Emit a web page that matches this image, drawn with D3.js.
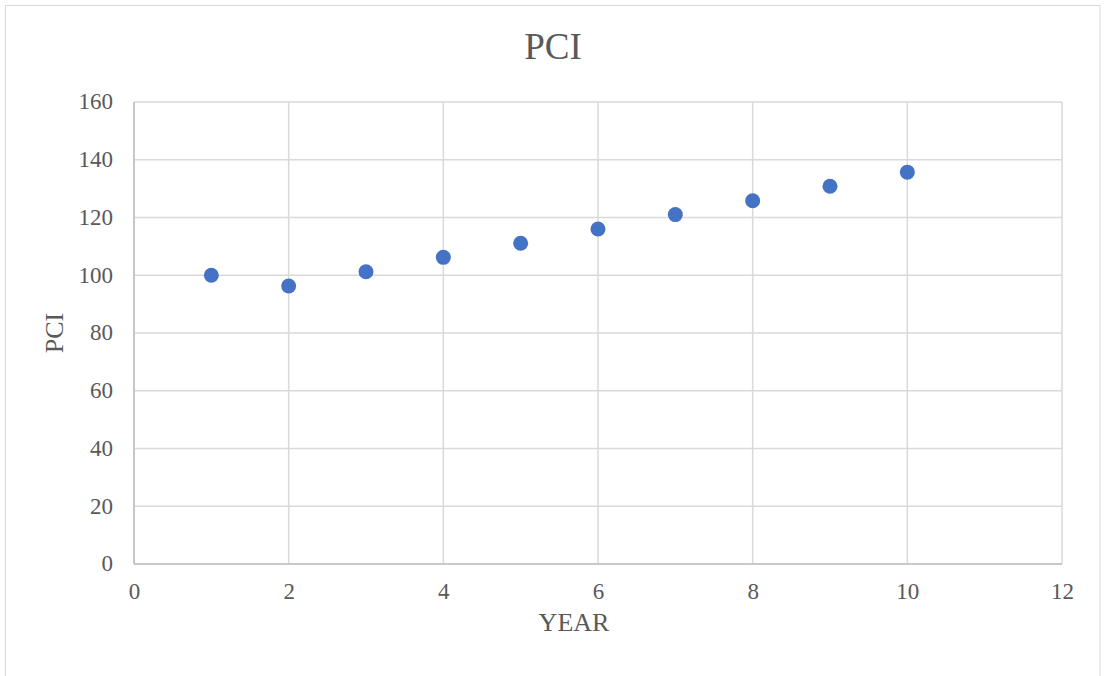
<!DOCTYPE html>
<html>
<head>
<meta charset="utf-8">
<script src="https://cdn.jsdelivr.net/npm/d3@7"></script>
<style>
  html, body { margin: 0; padding: 0; background: #ffffff; }
  svg { display: block; }
</style>
</head>
<body>
<svg id="chart" width="1104" height="676"></svg>
<script>
// PCI by year
const years = [1, 2, 3, 4, 5, 6, 7, 8, 9, 10];
const pci = [100, 96.3, 101.2, 106.2, 111.1, 116, 121, 125.8, 130.8, 135.7];
const xTicks = [0, 2, 4, 6, 8, 10, 12];
const yTicks = [0, 20, 40, 60, 80, 100, 120, 140, 160];

const W = 1104, H = 676;
const margin = { left: 134, right: 1104 - 1062, top: 102, bottom: 676 - 564 };
const font = "'Liberation Serif', 'Times New Roman', serif";
const textColor = "#595959";

const svg = d3.select("#chart");

// chart frame
svg.append("rect")
  .attr("x", 5.5).attr("y", 5.5)
  .attr("width", 1094.5).attr("height", 680)
  .attr("fill", "#ffffff")
  .attr("stroke", "#d9d9d9").attr("stroke-width", 1);

const x = d3.scaleLinear().domain([0, 12]).range([margin.left, W - margin.right]);
const y = d3.scaleLinear().domain([0, 160]).range([H - margin.bottom, margin.top]);

// gridlines
const grid = svg.append("g");
grid.selectAll("line.h").data(yTicks).join("line")
  .attr("class", "h")
  .attr("x1", x(0)).attr("x2", x(12))
  .attr("y1", d => y(d)).attr("y2", d => y(d))
  .attr("stroke", "#d9d9d9").attr("stroke-width", 1.5);
grid.selectAll("line.v").data(xTicks).join("line")
  .attr("class", "v")
  .attr("y1", y(0)).attr("y2", y(160))
  .attr("x1", d => x(d)).attr("x2", d => x(d))
  .attr("stroke", "#d9d9d9").attr("stroke-width", 1.5);

// axis lines
svg.append("line")
  .attr("x1", x(0)).attr("x2", x(12)).attr("y1", y(0)).attr("y2", y(0))
  .attr("stroke", "#bfbfbf").attr("stroke-width", 1.5);
svg.append("line")
  .attr("x1", x(0)).attr("x2", x(0)).attr("y1", y(0)).attr("y2", y(160))
  .attr("stroke", "#bfbfbf").attr("stroke-width", 1.5);

// axes (labels only)
const xAxis = d3.axisBottom(x).tickValues(xTicks).tickSize(0).tickPadding(0).tickFormat(d3.format("d"));
const yAxis = d3.axisLeft(y).tickValues(yTicks).tickSize(0).tickPadding(0).tickFormat(d3.format("d"));

const gx = svg.append("g").attr("transform", `translate(0,${y(0) + 35})`).call(xAxis);
const gy = svg.append("g").attr("transform", `translate(${x(0) - 21},0)`).call(yAxis);
[gx, gy].forEach(g => {
  g.select(".domain").remove();
  g.selectAll("text")
    .attr("fill", textColor)
    .style("font-family", font)
    .style("font-size", "23px");
});
gy.selectAll("text").attr("dy", "0.3em");
gx.selectAll("text").attr("dy", "0");

// points
svg.append("g").selectAll("circle").data(years).join("circle")
  .attr("cx", (d, i) => x(d))
  .attr("cy", (d, i) => y(pci[i]))
  .attr("r", 7.5)
  .attr("fill", "#4472c4");

// titles
svg.append("text")
  .attr("x", 553).attr("y", 59)
  .attr("text-anchor", "middle")
  .attr("fill", textColor)
  .style("font-family", font).style("font-size", "37px")
  .text("PCI");

svg.append("text")
  .attr("x", 574).attr("y", 631)
  .attr("text-anchor", "middle")
  .attr("fill", textColor)
  .style("font-family", font).style("font-size", "26px")
  .text("YEAR");

svg.append("text")
  .attr("transform", `translate(63,${(y(0) + y(160)) / 2}) rotate(-90)`)
  .attr("text-anchor", "middle")
  .attr("fill", textColor)
  .style("font-family", font).style("font-size", "26px")
  .text("PCI");
</script>
</body>
</html>
